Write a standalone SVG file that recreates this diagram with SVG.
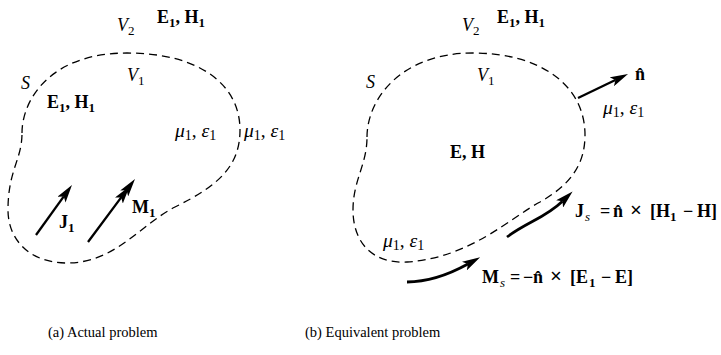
<svg xmlns="http://www.w3.org/2000/svg" width="721" height="355" viewBox="0 0 721 355" font-family="'Liberation Serif','Times New Roman','DejaVu Serif',serif">
<style>
text{font-family:"Liberation Serif","Times New Roman","DejaVu Serif",serif;fill:#000}
.b{font-weight:bold;font-size:18px}
.i{font-style:italic;font-size:18px}
.me{font-style:italic;font-size:19.5px}
.r{font-style:normal;font-weight:normal}
.sub{font-size:13px;font-weight:normal;font-style:normal}
.msub{font-size:14px;font-weight:normal;font-style:normal}
.bsub{font-size:13px}
.si{font-size:13px;font-style:italic;font-weight:normal}
.cap{font-size:14.5px}
.surf{fill:none;stroke:#000;stroke-width:1.3;stroke-dasharray:8 5}
.arr{fill:none;stroke:#000;stroke-width:2.3}
.arr2{fill:none;stroke:#000;stroke-width:2.8}
</style>
<defs>
<marker id="ah" markerUnits="userSpaceOnUse" viewBox="0 0 18 10" refX="4" refY="5" markerWidth="18" markerHeight="10" orient="auto">
<path d="M0,0 L18,5 L0,10 L4,5 Z" fill="#000"/>
</marker>
</defs>

<g id="surface-a"><path class="surf" d="M22,133 C22,100 50,53 127,53 C200,53 240,85 240,130 C240,165 220,185 175,207 C140,225 115,263 67,263 C30,263 8,240 8,210 C8,170 22,160 22,133 Z"/></g>
<g id="surface-b"><path class="surf" d="M367,137 C367,100 400,53 473,53 C540,53 585,85 585,135 C585,165 570,185 540,202 C510,218 470,258 407,262 C370,264 353,240 353,210 C353,180 367,165 367,137 Z"/></g>

<g id="connectors">
<path class="arr" d="M36,235 L63.8,196.4" marker-end="url(#ah)"/>
<path class="arr" d="M88,242 L121.2,197.4 L126.6,190.2" marker-mid="url(#ah)" marker-end="url(#ah)"/>
<path class="arr" d="M578,98 L615.4,80" marker-end="url(#ah)"/>
<path class="arr2" d="M507,237 C527,222 545,218 562.5,201.2" marker-end="url(#ah)"/>
<path class="arr2" d="M407,282 C430,282 450,274 467.9,264.1" marker-end="url(#ah)"/>
</g>

<g id="labels-a">
<text class="i" x="117" y="31">V<tspan class="sub" dy="4">2</tspan></text>
<text class="b" x="157" y="23">E<tspan class="bsub" dy="4">1</tspan><tspan dy="-4">, H</tspan><tspan class="bsub" dy="4">1</tspan></text>
<text class="i" x="21" y="89">S</text>
<text class="i" x="127" y="81">V<tspan class="sub" dy="4">1</tspan></text>
<text class="b" x="47" y="108">E<tspan class="bsub" dy="4">1</tspan><tspan dy="-4">, H</tspan><tspan class="bsub" dy="4">1</tspan></text>
<text class="me" x="175" y="137">μ<tspan class="msub" dy="3">1</tspan><tspan class="r" dy="-3">, </tspan>ε<tspan class="msub" dy="3">1</tspan></text>
<text class="me" x="244" y="137">μ<tspan class="msub" dy="3">1</tspan><tspan class="r" dy="-3">, </tspan>ε<tspan class="msub" dy="3">1</tspan></text>
<text class="b" x="59" y="228">J<tspan class="bsub" dy="4">1</tspan></text>
<text class="b" x="132" y="213">M<tspan class="bsub" dy="4">1</tspan></text>
<text class="cap" x="48" y="337">(a) Actual problem</text>
</g>

<g id="labels-b">
<text class="i" x="462" y="31">V<tspan class="sub" dy="4">2</tspan></text>
<text class="b" x="497" y="23">E<tspan class="bsub" dy="4">1</tspan><tspan dy="-4">, H</tspan><tspan class="bsub" dy="4">1</tspan></text>
<text class="i" x="366" y="88">S</text>
<text class="i" x="477" y="81">V<tspan class="sub" dy="4">1</tspan></text>
<text class="b" x="635" y="80">n̂</text>
<text class="me" x="603" y="114">μ<tspan class="msub" dy="3">1</tspan><tspan class="r" dy="-3">, </tspan>ε<tspan class="msub" dy="3">1</tspan></text>
<text class="b" x="450" y="158">E, H</text>
<text class="me" x="383" y="247">μ<tspan class="msub" dy="3">1</tspan><tspan class="r" dy="-3">, </tspan>ε<tspan class="msub" dy="3">1</tspan></text>
<text class="b" y="217"><tspan x="575">J</tspan><tspan class="si" x="585" y="221">s</tspan><tspan x="600" y="217">=</tspan><tspan x="613">n̂</tspan><tspan x="630" font-size="21">×</tspan><tspan x="650">[H</tspan><tspan class="bsub" x="670" y="221">1</tspan><tspan x="683" y="217">−</tspan><tspan x="697">H]</tspan></text>
<text class="b" y="283"><tspan x="482">M</tspan><tspan class="si" x="500" y="287">s</tspan><tspan x="510" y="283">=</tspan><tspan x="523">−</tspan><tspan x="533">n̂</tspan><tspan x="550" font-size="21">×</tspan><tspan x="570">[E</tspan><tspan class="bsub" x="589" y="287">1</tspan><tspan x="601" y="283">−</tspan><tspan x="615">E]</tspan></text>
<text class="cap" x="305" y="337">(b) Equivalent problem</text>
</g>
</svg>
